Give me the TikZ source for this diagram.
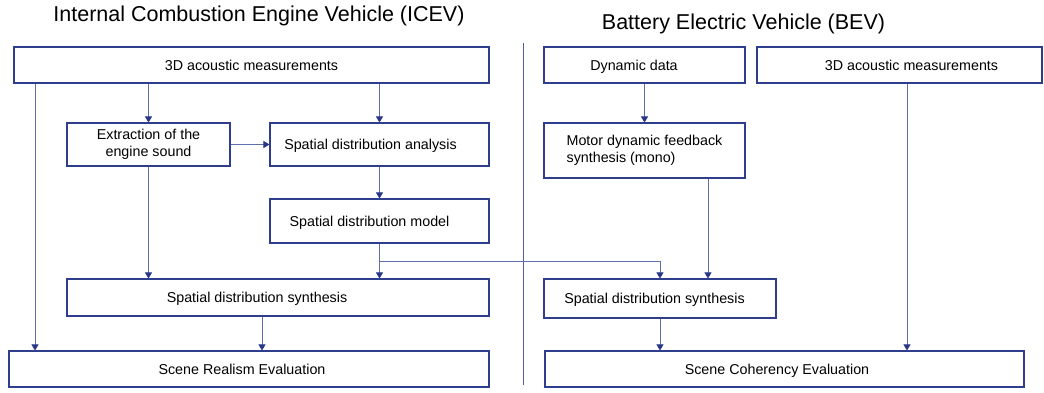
\documentclass[tikz,border=0pt]{standalone}
\usepackage{fontspec}
\setmainfont{Liberation Sans}
\usetikzlibrary{arrows.meta}
\definecolor{boxc}{RGB}{47,62,140}
\definecolor{linec}{RGB}{95,110,172}
\definecolor{tipc}{RGB}{40,55,135}
\definecolor{sepc}{RGB}{80,95,160}
\begin{document}
\begin{tikzpicture}[x=1pt,y=-1pt,
  box/.style={draw=boxc, line width=1.1pt, inner sep=0pt, fill=white,
    font=\fontsize{14.3}{17}\selectfont, text=black},
  onebox/.style={box, text height=10.2pt, text depth=0pt},
  conn/.style={draw=linec, line width=0.9pt,
    -{Triangle[width=7pt,length=6pt,color=tipc]}},
  sepline/.style={draw=sepc, line width=1pt},
  titletext/.style={font=\fontsize{21.5}{26}\selectfont, text=black, inner sep=0pt, anchor=base}]
\useasboundingbox (0,0) rectangle (1044,392);
\fill[white] (0,0) rectangle (1044,392);

% titles
\node[titletext] (t1) at (259,21.5) {Internal Combustion Engine Vehicle (ICEV)};
\node[titletext] (t2) at (743.5,29) {Battery Electric Vehicle (BEV)};

% separator
\draw[sepline] (523,43) -- (523,385);

% ICEV boxes
\node[onebox, minimum width=475pt, minimum height=36pt] (m3d) at (251.5,65) {3D acoustic measurements};
\node[box, minimum width=163pt, minimum height=43pt, align=center] (extr) at (148.5,144.5) {Extraction of the\\engine sound};
\node[onebox, minimum width=219pt, minimum height=43pt] (anal) at (379.5,144.5) {\hspace*{-18pt}Spatial distribution analysis};
\node[onebox, minimum width=219pt, minimum height=44pt] (model) at (379.5,221) {\hspace*{-20pt}Spatial distribution model};
\node[onebox, minimum width=422pt, minimum height=37pt] (synth) at (278,297.5) {\hspace*{-42pt}Spatial distribution synthesis};
\node[onebox, minimum width=480pt, minimum height=36pt] (real) at (249,369) {\hspace*{-14pt}Scene Realism Evaluation};

% BEV boxes
\node[onebox, minimum width=201pt, minimum height=36pt] (dyn) at (644.5,65) {\hspace*{-21pt}Dynamic data};
\node[onebox, minimum width=285pt, minimum height=36pt] (b3d) at (899.5,65) {\hspace*{24pt}3D acoustic measurements};
\node[box, minimum width=201pt, minimum height=55pt, align=left] (motor) at (644.5,150.5) {Motor dynamic feedback\\synthesis (mono)};
\node[onebox, minimum width=232pt, minimum height=39pt] (bsyn) at (660,298.5) {\hspace*{-11pt}Spatial distribution synthesis};
\node[onebox, minimum width=479pt, minimum height=36pt] (coh) at (784.5,369) {\hspace*{-15pt}Scene Coherency Evaluation};

% guide coordinates
\coordinate (xa) at (35,0);
\coordinate (xd) at (262,0);
\coordinate (xf) at (708,0);
\coordinate (xh) at (907,0);
\coordinate (ybr) at (0,261);

% ICEV connectors
\draw[conn] (m3d.south -| xa) -- (real.north -| xa);
\draw[conn] (m3d.south -| extr.north) -- (extr.north);
\draw[conn] (m3d.south -| anal.north) -- (anal.north);
\draw[conn] (extr.east) -- (anal.west);
\draw[conn] (anal.south) -- (model.north);
\draw[conn] (extr.south) -- (synth.north -| extr.south);
\draw[conn] (model.south) -- (synth.north -| model.south);
\draw[conn] (synth.south -| xd) -- (real.north -| xd);
\draw[conn] (model.south) -- (model.south |- ybr) -| (bsyn.north);

% BEV connectors
\draw[conn] (dyn.south) -- (motor.north);
\draw[conn] (motor.south -| xf) -- (bsyn.north -| xf);
\draw[conn] (bsyn.south) -- (coh.north -| bsyn.south);
\draw[conn] (b3d.south -| xh) -- (coh.north -| xh);
\end{tikzpicture}
\end{document}
